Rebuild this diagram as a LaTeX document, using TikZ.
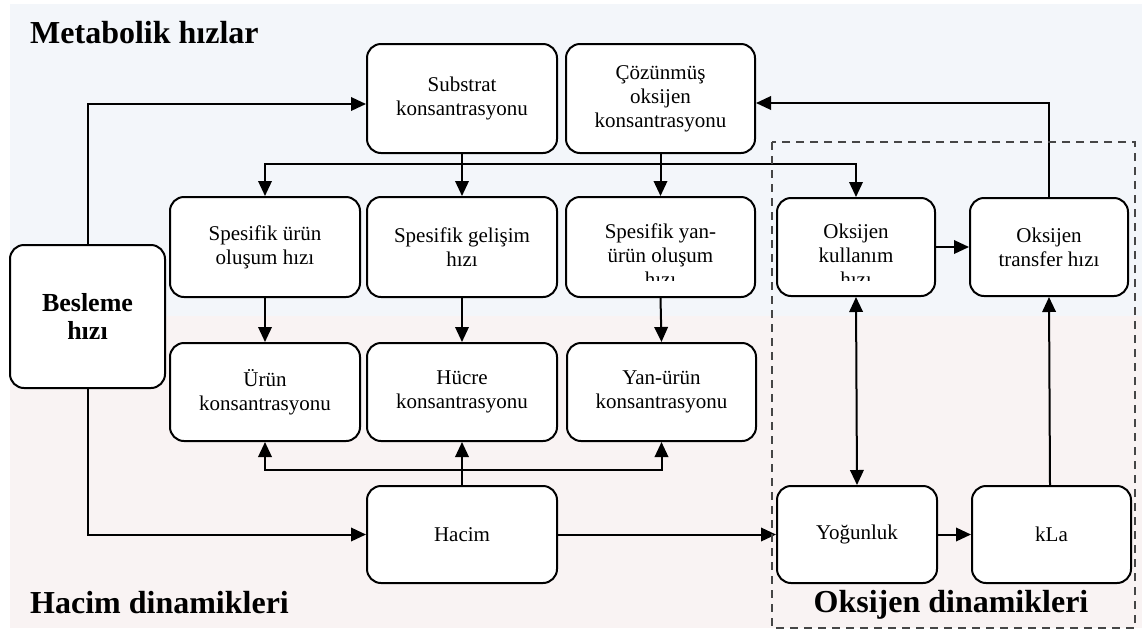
\documentclass[tikz,border=0pt]{standalone}
\usepackage{fontspec}
\setmainfont{Liberation Serif}
\usetikzlibrary{arrows.meta}
\definecolor{metabg}{RGB}{243,246,250}
\definecolor{volbg}{RGB}{249,243,243}
\definecolor{dashgray}{RGB}{70,70,70}

\begin{document}
\begin{tikzpicture}[x=1pt,y=-1pt,
  boxfont/.style={font=\fontsize{21}{24}\selectfont},
  box/.style={draw, line width=2pt, rounded corners=14pt, fill=white,
    align=center, inner sep=0pt, boxfont,
    minimum width=190pt, minimum height=100pt},
  boxtext/.style={align=center, inner sep=0pt, boxfont},
  tip/.tip={Triangle[length=15pt,width=13.5pt]},
  arr/.style={line width=2pt, -tip},
  dbl/.style={line width=2pt, tip-tip},
  plain/.style={line width=2pt},
  title/.style={font=\bfseries\fontsize{32}{36}\selectfont, inner sep=0pt},
]
\useasboundingbox (0,0) rectangle (1143,630);

% regions
\fill[metabg] (10,4) rectangle (1142,316);
\fill[volbg] (10,316) rectangle (1142,628);

% titles
\node[title, anchor=base west] (tmeta) at (30,43) {Metabolik hızlar};
\node[title, anchor=base west] (thacim) at (30,613) {Hacim dinamikleri};
\node[title, anchor=base] (toks) at (951,612) {Oksijen dinamikleri};

% top row
\node[box, minimum height=109pt] (sub) at (462,98.5) {Substrat\\konsantrasyonu};
\node[box, minimum height=109pt, minimum width=189pt] (coz) at (660.5,98.5) {Çözünmüş\\oksijen\\konsantrasyonu};

% specific rates
\node[box] (spu) at (265,247) {Spesifik ürün\\oluşum hızı};
\node[box] (spg) at (462,247) {Spesifik gelişim\\hızı};
\node[box, minimum width=189pt] (spy) at (660.5,247) {};
\begin{scope}
  \clip (566,190) rectangle (755,280);
  \node[boxtext] (spytext) at (660.5,255) {Spesifik yan-\\ürün oluşum\\hızı};
\end{scope}
\node[box, minimum width=158pt, minimum height=98pt] (oku) at (856,247) {};
\begin{scope}
  \clip (777,190) rectangle (935,280);
  \node[boxtext] (okutext) at (856,255) {Oksijen\\kullanım\\hızı};
\end{scope}
\node[box, minimum width=158pt, minimum height=98pt] (otr) at (1049,247) {Oksijen\\transfer hızı};

% feed
\node[box, minimum width=155pt, minimum height=143pt,
  font=\bfseries\fontsize{26}{28}\selectfont] (bes) at (87.5,316.5) {Besleme\\hızı};

% concentrations
\node[box, minimum height=98pt] (urk) at (265,392) {Ürün\\konsantrasyonu};
\node[box, minimum height=98pt] (hck) at (462,392) {Hücre\\konsantrasyonu};
\node[box, minimum height=98pt, minimum width=189pt] (yuk) at (661.5,392) {Yan-ürün\\konsantrasyonu};

% bottom row
\node[box, minimum height=97pt] (hac) at (462,534.5) {Hacim};
\node[box, minimum width=160pt, minimum height=97pt] (yog) at (857,534.5) {Yoğunluk};
\node[box, minimum width=159pt, minimum height=97pt] (kla) at (1051.5,534.5) {kLa};

% feed connections
\draw[arr] (bes.north) |- ([yshift=-5.5pt]sub.west);
\draw[arr] (bes.south) |- (hac.west);

% upper distribution line
\draw[arr] (sub.south) -- (spg.north);
\draw[arr] (coz.south) -- (spy.north);
\draw[plain] ([yshift=-10pt]sub.south) -- ([yshift=-10pt]coz.south);
\draw[arr] ([yshift=-10pt]sub.south) -| (spu.north);
\draw[arr] ([yshift=-10pt]coz.south) -| (oku.north);

% rates to concentrations
\draw[arr] (spu.south) -- (urk.north);
\draw[arr] (spg.south) -- (hck.north);
\draw[arr] (spy.south) -- (yuk.north);

% volume distribution line
\draw[arr] (hac.north) -- (hck.south);
\draw[arr] ([yshift=15pt]hac.north) -| (urk.south);
\draw[arr] ([yshift=15pt]hac.north) -| (yuk.south);

% oxygen dynamics
\draw[arr] (hac.east) -- (yog.west);
\draw[arr] (yog.east) -- (kla.west);
\draw[arr] ([xshift=-1.5pt]kla.north) -- (otr.south);
\draw[dbl] (oku.south) -- (yog.north);
\draw[arr] (oku.east) -- (otr.west);
\draw[arr] (otr.north) |- ([yshift=-4.5pt]coz.east);

% oxygen dynamics frame
\draw[dashgray, line width=2pt, dash pattern=on 8pt off 6pt] (772,142) rectangle (1135,628);
\end{tikzpicture}
\end{document}
